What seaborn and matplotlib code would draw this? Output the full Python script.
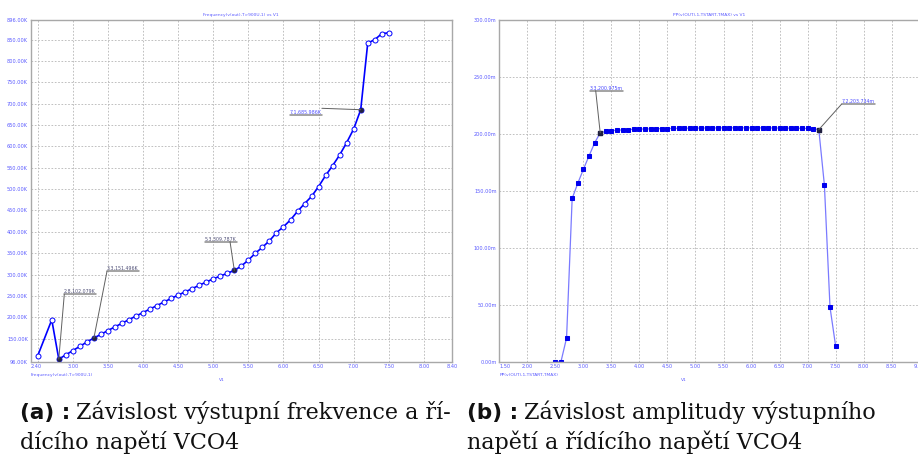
import numpy as np
import pandas as pd
import matplotlib
matplotlib.use("Agg")
import matplotlib.pyplot as plt
import seaborn as sns

# ---------------- data ----------------
# (a) frequency vs V1  (kHz)
v_freq = [2.5, 2.7, 2.8, 2.9, 3.0, 3.1, 3.2, 3.3, 3.4, 3.5, 3.6, 3.7, 3.8, 3.9,
          4.0, 4.1, 4.2, 4.3, 4.4, 4.5, 4.6, 4.7, 4.8, 4.9, 5.0, 5.1, 5.2, 5.3,
          5.4, 5.5, 5.6, 5.7, 5.8, 5.9, 6.0, 6.1, 6.2, 6.3, 6.4, 6.5, 6.6, 6.7,
          6.8, 6.9, 7.0, 7.1, 7.2, 7.3, 7.4, 7.5]
freq_k = [110, 194, 102.079, 112, 122, 132, 142, 151.496, 160, 169, 177.5, 186,
          194.5, 203, 211, 219.5, 227.5, 236, 244, 252, 259.5, 267, 275, 282.5,
          290, 296.5, 303, 309.787, 320, 334, 350, 364, 379, 398, 412, 428, 448,
          466, 483, 506, 532, 555, 580, 609, 641, 685.986, 842, 850, 864, 866]

# (b) peak-to-peak amplitude vs V1  (mV)
v_amp = [2.5, 2.6, 2.7, 2.8, 2.9, 3.0, 3.1, 3.2, 3.3, 3.4, 3.5, 3.6, 3.7, 3.8,
         3.9, 4.0, 4.1, 4.2, 4.3, 4.4, 4.5, 4.6, 4.7, 4.8, 4.9, 5.0, 5.1, 5.2,
         5.3, 5.4, 5.5, 5.6, 5.7, 5.8, 5.9, 6.0, 6.1, 6.2, 6.3, 6.4, 6.5, 6.6,
         6.7, 6.8, 6.9, 7.0, 7.1, 7.2, 7.3, 7.4, 7.5]
amp_m = [0.0, 0.0, 20.8, 143.4, 156.6, 168.9, 180.6, 192.0, 200.975, 202.2,
         202.8, 203.2, 203.5, 203.8, 204.0, 204.2, 204.3, 204.4, 204.5, 204.6,
         204.7, 204.8, 204.9, 205.0, 205.0, 205.1, 205.1, 205.2, 205.2, 205.2,
         205.3, 205.3, 205.3, 205.3, 205.3, 205.3, 205.3, 205.2, 205.2, 205.2,
         205.1, 205.1, 205.0, 205.0, 204.9, 204.8, 204.6, 203.734, 155.0, 47.8,
         13.8]

freq_yticks = [96, 150, 200, 250, 300, 350, 400, 450, 500, 550, 600, 650, 700,
               750, 800, 850, 896]
freq_xticks = [2.4, 3.0, 3.5, 4.0, 4.5, 5.0, 5.5, 6.0, 6.5, 7.0, 7.5, 8.0, 8.4]
amp_yticks = [0, 50, 100, 150, 200, 250, 300]
amp_xticks = [1.5, 2.0, 2.5, 3.0, 3.5, 4.0, 4.5, 5.0, 5.5, 6.0, 6.5, 7.0, 7.5,
              8.0, 8.5, 9.0]

freq_marks = [2.8, 3.3, 5.3, 7.1]
amp_marks = [3.3, 7.2]

title_a = "Frequency(v(out),T>900U,1) vs V1"
title_b = "PP(v(OUT),1,TSTART,TMAX) vs V1"
legend_a = "Frequency(v(out),T>900U,1)"
legend_b = "PP(v(OUT),1,TSTART,TMAX)"
cap_a = ["Závislost výstupní frekvence a ří-", "dícího napětí VCO4"]
cap_b = ["Závislost amplitudy výstupního", "napětí a řídícího napětí VCO4"]

# ---------------- style ----------------
sns.set_style("white")
plt.rcParams["font.family"] = ["DejaVu Sans"]

W, H = 918, 459
fig = plt.figure(figsize=(W / 100, H / 100), dpi=100)

TICK_C = "#5a5aff"
SPINE_C = "#a8a8a8"
GRID_C = "#b5b5b5"


def px(x, y):
    return x / W, (H - y) / H


def style_axes(ax):
    for s in ax.spines.values():
        s.set_color(SPINE_C)
        s.set_linewidth(1.0)
    ax.tick_params(length=0, labelsize=3.6, labelcolor=TICK_C, pad=2)
    ax.grid(True, which="both", ls=(0, (2, 2)), color=GRID_C, lw=0.6)
    ax.set_xlabel("")
    ax.set_ylabel("")


bot = (H - 361.7) / H
hgt = (361.7 - 20) / H
ax1 = fig.add_axes([30.7 / W, bot, (452 - 30.7) / W, hgt])
ax2 = fig.add_axes([499.3 / W, bot, (919.7 - 499.3) / W, hgt])

df_a = pd.DataFrame({"V1": v_freq, "f": freq_k})
df_b = pd.DataFrame({"V1": v_amp, "pp": amp_m})

sns.lineplot(data=df_a, x="V1", y="f", ax=ax1, color="#0000ff", lw=1.2,
             marker="o", markersize=3.6, markerfacecolor="white",
             markeredgecolor="#0000ff", markeredgewidth=0.7,
             estimator=None, sort=False)
sns.lineplot(data=df_b, x="V1", y="pp", ax=ax2, color="#7a7aff", lw=0.9,
             marker="s", markersize=2.7, markerfacecolor="#0000ee",
             markeredgecolor="#0000ee", estimator=None, sort=False)

# axes (a)
ax1.set_xlim(2.4, 8.4)
ax1.set_ylim(96, 896)
ax1.set_xticks(freq_xticks)
ax1.set_xticklabels([f"{t:.2f}" for t in freq_xticks])
ax1.set_xticks([2.5], minor=True)
ax1.set_yticks(freq_yticks)
ax1.set_yticklabels([f"{t:.2f}K" for t in freq_yticks])
style_axes(ax1)
ax1.get_xticklabels()[0].set_horizontalalignment("left")

# axes (b)
ax2.set_xlim(1.5, 9.0)
ax2.set_ylim(0, 300)
ax2.set_xticks(amp_xticks)
ax2.set_xticklabels([f"{t:.2f}" for t in amp_xticks])
ax2.set_yticks(amp_yticks)
ax2.set_yticklabels([f"{t:.2f}m" for t in amp_yticks])
style_axes(ax2)
ax2.get_xticklabels()[0].set_horizontalalignment("left")

# titles
fig.text(*px(241, 17), title_a, ha="center", va="bottom", fontsize=3.2,
         color=TICK_C)
fig.text(*px(709, 17), title_b, ha="center", va="bottom", fontsize=3.2,
         color=TICK_C)

# legend-like labels and V1
for (x, t) in [(30.7, legend_a), (499.3, legend_b)]:
    fig.text(*px(x, 376), t, ha="left", va="baseline", fontsize=3.2,
             color=TICK_C)
for x in [222, 684]:
    fig.text(*px(x, 381), "V1", ha="center", va="baseline", fontsize=3.2,
             color=TICK_C)

# mark highlighted points
mk_a = df_a[df_a["V1"].isin(freq_marks)]
ax1.plot(mk_a["V1"], mk_a["f"], "o", ms=2.5, color="#202040", zorder=5)
mk_b = df_b[df_b["V1"].isin(amp_marks)]
ax2.plot(mk_b["V1"], mk_b["pp"], "s", ms=2.5, color="#202040", zorder=5)

# annotations
fv = dict(zip(v_freq, freq_k))
av = dict(zip(v_amp, amp_m))
ann = [
    (ax1, 2.8, fv[2.8], f"2.8,{fv[2.8]:.3f}K", 64, 294.3, 64.3, "#505078"),
    (ax1, 3.3, fv[3.3], f"3.3,{fv[3.3]:.3f}K", 107, 271.3, 107, "#505078"),
    (ax1, 5.3, fv[5.3], f"5.3,{fv[5.3]:.3f}K", 205, 241.5, 230, "#505078"),
    (ax1, 7.1, fv[7.1], f"7.1,{fv[7.1]:.3f}K", 290, 115, None, "#5050ff"),
    (ax2, 3.3, av[3.3], f"3.3,{av[3.3]:.3f}m", 590, 90.7, 595.7, "#4848ff"),
    (ax2, 7.2, av[7.2], f"7.2,{av[7.2]:.3f}m", 841.7, 104, 841.7, "#4848ff"),
]
fig.canvas.draw()
renderer = fig.canvas.get_renderer()
for ax, xv, yv, txt, tx, ty, lx, col in ann:
    t = fig.text(*px(tx, ty - 1.2), txt, ha="left", va="baseline",
                 fontsize=3.4, color=col)
    bb = t.get_window_extent(renderer)
    fig.add_artist(plt.Line2D([bb.x0 / W, bb.x1 / W], [px(0, ty)[1]] * 2,
                              color="#8a8a8a", lw=1.1))
    pt = ax.transData.transform((xv, yv))
    if lx is None:
        start = (bb.x1, H - 108.3)
    else:
        start = (lx, H - ty)
    fig.add_artist(plt.Line2D([start[0] / W, pt[0] / W],
                              [start[1] / H, pt[1] / H],
                              color="#606060", lw=0.7))

# captions
CAP_FS = 16
for xpx, lab, lines in [(20, "(a) :", cap_a), (467, "(b) :", cap_b)]:
    t1 = fig.text(*px(xpx, 419), lab, ha="left", va="baseline",
                  fontsize=CAP_FS - 0.5, fontweight="bold",
                  family="DejaVu Sans", color="#111111")
    bb = t1.get_window_extent(renderer)
    fig.text(bb.x1 / W + 6 / W, px(0, 419)[1], lines[0], ha="left",
             va="baseline", fontsize=CAP_FS, family="DejaVu Serif",
             color="#111111")
    fig.text(*px(xpx, 449), lines[1], ha="left", va="baseline",
             fontsize=CAP_FS, family="DejaVu Serif", color="#111111")

fig.savefig("out.png", dpi=100)
